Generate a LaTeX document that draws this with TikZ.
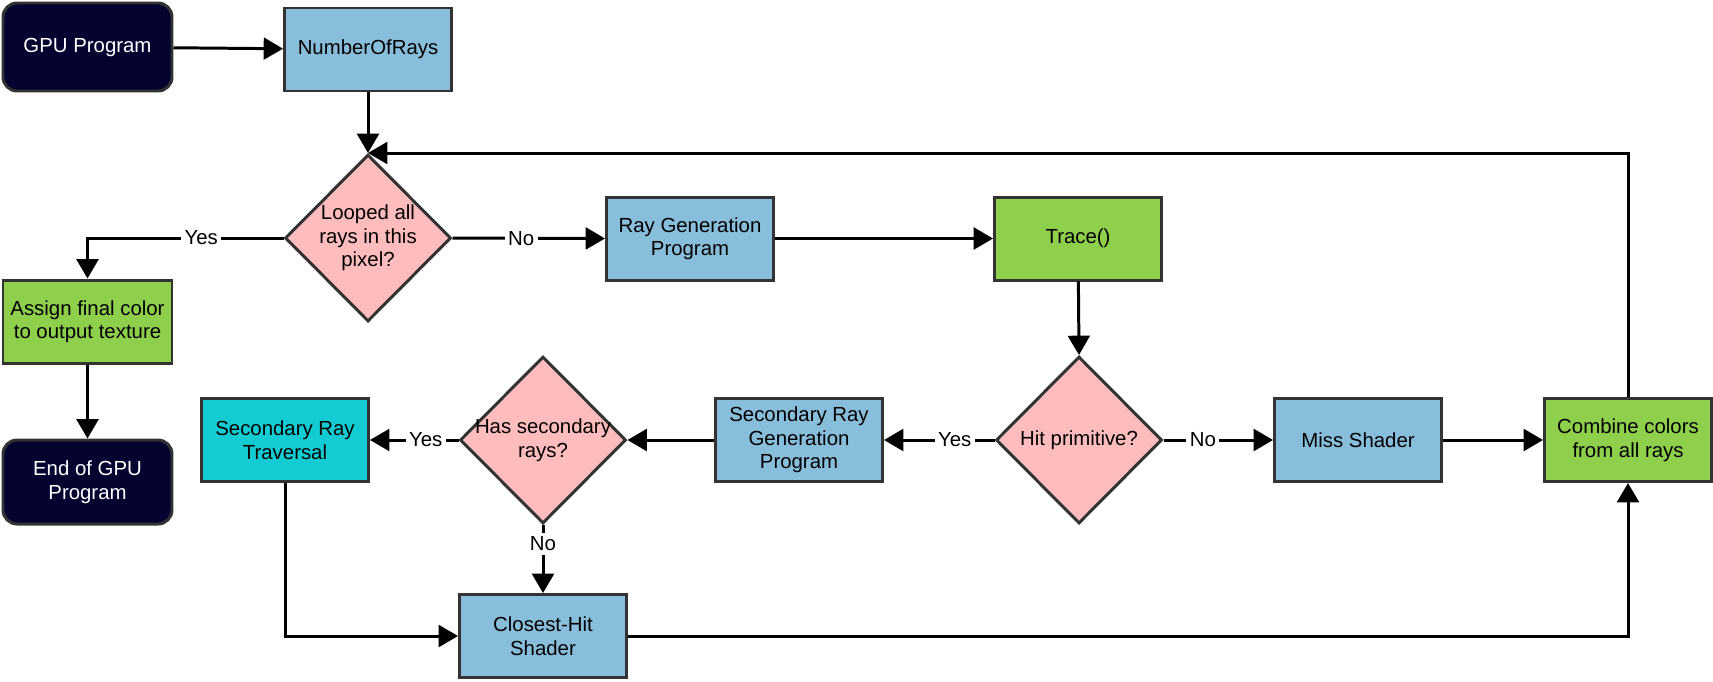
\documentclass[tikz,border=0pt]{standalone}
\usepackage{fontspec}
\setmainfont{Liberation Sans}
\usetikzlibrary{shapes.geometric,arrows.meta}
\definecolor{navy}{HTML}{04032F}
\definecolor{boxblue}{HTML}{88BEDC}
\definecolor{boxpink}{HTML}{FEBCBC}
\definecolor{boxgreen}{HTML}{8ECF4C}
\definecolor{boxcyan}{HTML}{13CCD3}
\definecolor{edgegray}{HTML}{333333}

\begin{document}
\begin{tikzpicture}[
    every node/.style={font=\fontsize{5.8}{6.7}\selectfont, align=center},
    box/.style={rectangle, draw=edgegray, line width=0.85pt, minimum width=1.67cm, minimum height=0.83cm, inner sep=1pt},
    terminal/.style={box, rounded corners=0.14cm, fill=navy, text=white, minimum width=1.69cm},
    decision/.style={diamond, aspect=1, draw=edgegray, line width=0.85pt, fill=boxpink, minimum width=1.66cm, minimum height=1.67cm, inner sep=0pt},
    flow/.style={line width=0.85pt, -{Triangle[length=5.5pt,width=6.2pt]}},
    answer/.style={fill=white, inner sep=1pt}]
          \useasboundingbox (0,0) rectangle (17.13,-6.81);
          % Nodes
          \node[terminal, minimum height=0.88cm] (gpu) at (0.875,-0.47) {GPU Program};
          \node[box, fill=boxblue] (rays) at (3.68,-0.495) {NumberOfRays};
          \node[decision, label={[align=center]center:Looped all\\rays in this\\pixel?}] (loop) at (3.68,-2.38) {};
          \node[box, fill=boxblue] (raygen) at (6.90,-2.385) {Ray Generation\\Program};
          \node[box, fill=boxgreen] (trace) at (10.78,-2.385) {Trace()};
          \node[box, fill=boxgreen, minimum width=1.69cm] (assign) at (0.875,-3.215) {Assign final color\\to output texture};
          \node[terminal, minimum height=0.84cm] (endgpu) at (0.875,-4.82) {End of GPU\\Program};
          \node[box, fill=boxcyan] (srt) at (2.85,-4.40) {Secondary Ray\\Traversal};
          \node[decision, label={[align=center]center:Has secondary\\rays?}] (hassec) at (5.43,-4.40) {};
          \node[box, fill=boxblue] (srgp) at (7.99,-4.40) {Secondary Ray\\Generation\\Program};
          \node[decision, label={center:Hit primitive?}] (hit) at (10.79,-4.40) {};
          \node[box, fill=boxblue] (miss) at (13.58,-4.40) {Miss Shader};
          \node[box, fill=boxgreen] (combine) at (16.28,-4.40) {Combine colors\\from all rays};
          \node[box, fill=boxblue] (closest) at (5.43,-6.36) {Closest-Hit\\Shader};

          % Edges
          \draw[flow] (gpu) -- (rays);
          \draw[flow] (rays) -- (loop.north);
          \draw[flow] (loop.west) -| (assign.north) node[answer, pos=0.21] {Yes};
          \draw[flow] (loop.east) -- (raygen.west) node[answer, pos=0.45] {No};
          \draw[flow] (assign) -- (endgpu);
          \draw[flow] (raygen) -- (trace);
          \draw[flow] (trace) -- (hit.north);
          \draw[flow] (hit.west) -- (srgp.east) node[answer, pos=0.36] {Yes};
          \draw[flow] (hit.east) -- (miss.west) node[answer, pos=0.36] {No};
          \draw[flow] (srgp) -- (hassec.east);
          \draw[flow] (hassec.west) -- (srt.east) node[answer, pos=0.37] {Yes};
          \draw[flow] (hassec.south) -- (closest.north) node[answer, pos=0.28] {No};
          \draw[flow] (srt.south) |- (closest.west);
          \draw[flow] (closest.east) -| (combine.south);
          \draw[flow] (miss) -- (combine);
          \draw[flow] (combine.north) |- (loop.north);
      \end{tikzpicture}
\end{document}
